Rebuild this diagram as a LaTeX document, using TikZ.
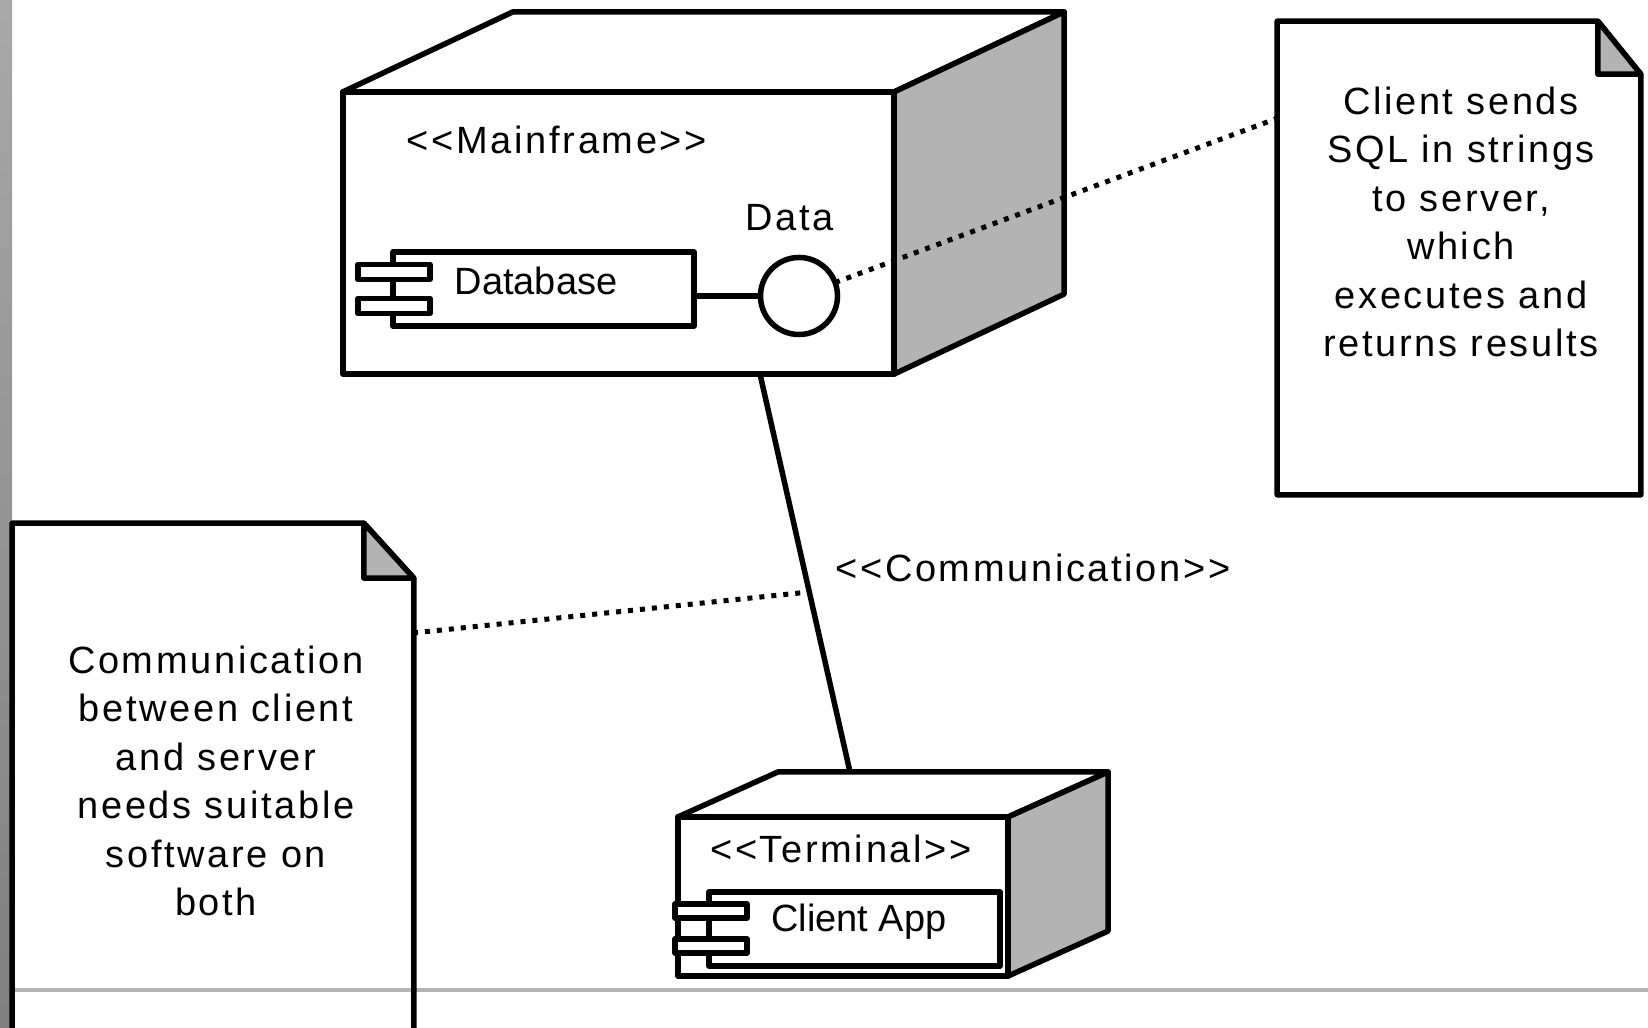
\documentclass[tikz,border=0pt]{standalone}
\usepackage{fontspec}
\setmainfont{Liberation Sans}[Ligatures=TeXOff,LetterSpace=7]
\newfontfamily\plainsans{Liberation Sans}[Ligatures=TeXOff]
\usetikzlibrary{calc}

\definecolor{facegray}{HTML}{B3B3B3}

\tikzset{
  uml/.style={line width=0.055cm, line join=round},
  face/.style={uml, fill=facegray},
  box/.style={uml, draw, fill=white, inner sep=0pt, outer sep=0pt},
  comptab/.style={box, minimum width=0.72cm, minimum height=0.15cm},
  lbl/.style={inner sep=0pt, font=\fontsize{10.8}{13.8}\selectfont},
  notetext/.style={lbl, align=center},
  notelink/.style={line width=0.05cm, dash pattern=on 0.05cm off 0.07cm},
}

\begin{document}
\begin{tikzpicture}[x=0.01cm,y=-0.01cm]
\useasboundingbox (0,0) rectangle (1648,1028);
\clip (0,0) rectangle (1648,1028);

% window frame
\shade[top color=black!34, bottom color=black!50] (0,0) rectangle (12,1028);
\draw[line width=0.035cm, facegray] (12,990) -- (1648,990);

% notes
\node[inner sep=0pt, minimum width=3.62cm, minimum height=4.72cm] (rnote) at (1459,258) {};
\draw[uml] (rnote.north west) -- ($(rnote.north east)+(-43,0)$) -- ($(rnote.north east)+(0,53)$)
  -- (rnote.south east) -- (rnote.south west) -- cycle;
\draw[face] ($(rnote.north east)+(-43,0)$) -- ($(rnote.north east)+(-43,53)$)
  -- ($(rnote.north east)+(0,53)$) -- cycle;
\node[notetext] (rnote-text) at (1461,222)
  {Client sends\\SQL in strings\\to server,\\which\\executes and\\returns results};

\node[inner sep=0pt, minimum width=4.00cm, minimum height=5.76cm] (lnote) at (213,812) {};
\draw[uml] (lnote.north west) -- ($(lnote.north east)+(-50,0)$) -- ($(lnote.north east)+(0,55)$)
  -- (lnote.south east) -- (lnote.south west) -- cycle;
\draw[face] ($(lnote.north east)+(-50,0)$) -- ($(lnote.north east)+(-50,55)$)
  -- ($(lnote.north east)+(0,55)$) -- cycle;
\node[notetext] (lnote-text) at (216,781)
  {Communication\\between client\\and server\\needs suitable\\software on\\both};

% mainframe node
\node[box, minimum width=5.51cm, minimum height=2.82cm] (mf) at (618.5,233) {};
\draw[uml, fill=white] (mf.north west) -- ++(170,-80) -- ($(mf.north east)+(170,-80)$)
  -- (mf.north east) -- cycle;
\draw[face] (mf.north east) -- ++(170,-80) -- ($(mf.south east)+(170,-80)$)
  -- (mf.south east) -- cycle;
\node[lbl] (mf-name) at (557,140) {<<Mainframe>>};

\node[box, minimum width=3.01cm, minimum height=0.74cm] (db) at (543.5,289) {};
\node[lbl, font=\fontsize{10.8}{13.8}\plainsans] (db-name) at (536,281) {Database};
\node[comptab] (db-tab1) at ($(db.west)+(1,-17)$) {};
\node[comptab] (db-tab2) at ($(db.west)+(1,17)$) {};

\node[box, circle, minimum size=0.77cm] (iface) at (799,296) {};
\draw[uml] (db.east |- iface) -- (iface.west);
\node[lbl] (iface-name) at (790,218) {Data};

% terminal node
\node[box, minimum width=3.30cm, minimum height=1.59cm] (term) at (843,896.5) {};
\draw[uml, fill=white] (term.north west) -- ++(100,-45) -- ($(term.north east)+(100,-45)$)
  -- (term.north east) -- cycle;
\draw[face] (term.north east) -- ++(100,-45) -- ($(term.south east)+(100,-45)$)
  -- (term.south east) -- cycle;
\node[lbl] (term-name) at (841,849) {<<Terminal>>};

\node[box, minimum width=2.91cm, minimum height=0.74cm] (app) at (854.5,929) {};
\node[lbl, font=\fontsize{10.8}{13.8}\plainsans] (app-name) at (859,922) {Client App};
\node[comptab, minimum height=0.14cm] (app-tab1) at ($(app.west)+(2,-18)$) {};
\node[comptab, minimum height=0.14cm] (app-tab2) at ($(app.west)+(2,17)$) {};

% communication path
\coordinate (comm-a) at (760,374);
\coordinate (comm-b) at (850,772);
\draw[uml] (comm-a) -- (comm-b);
\node[lbl] (comm-name) at (1033,568) {<<Communication>>};

% note links
\coordinate (rnote-in) at (1278,118);
\coordinate (lnote-in) at (413,633);
\coordinate (comm-mid) at (809,592);
\draw[notelink] (iface) -- (rnote-in);
\draw[notelink] (lnote-in) -- (comm-mid);
\end{tikzpicture}
\end{document}
